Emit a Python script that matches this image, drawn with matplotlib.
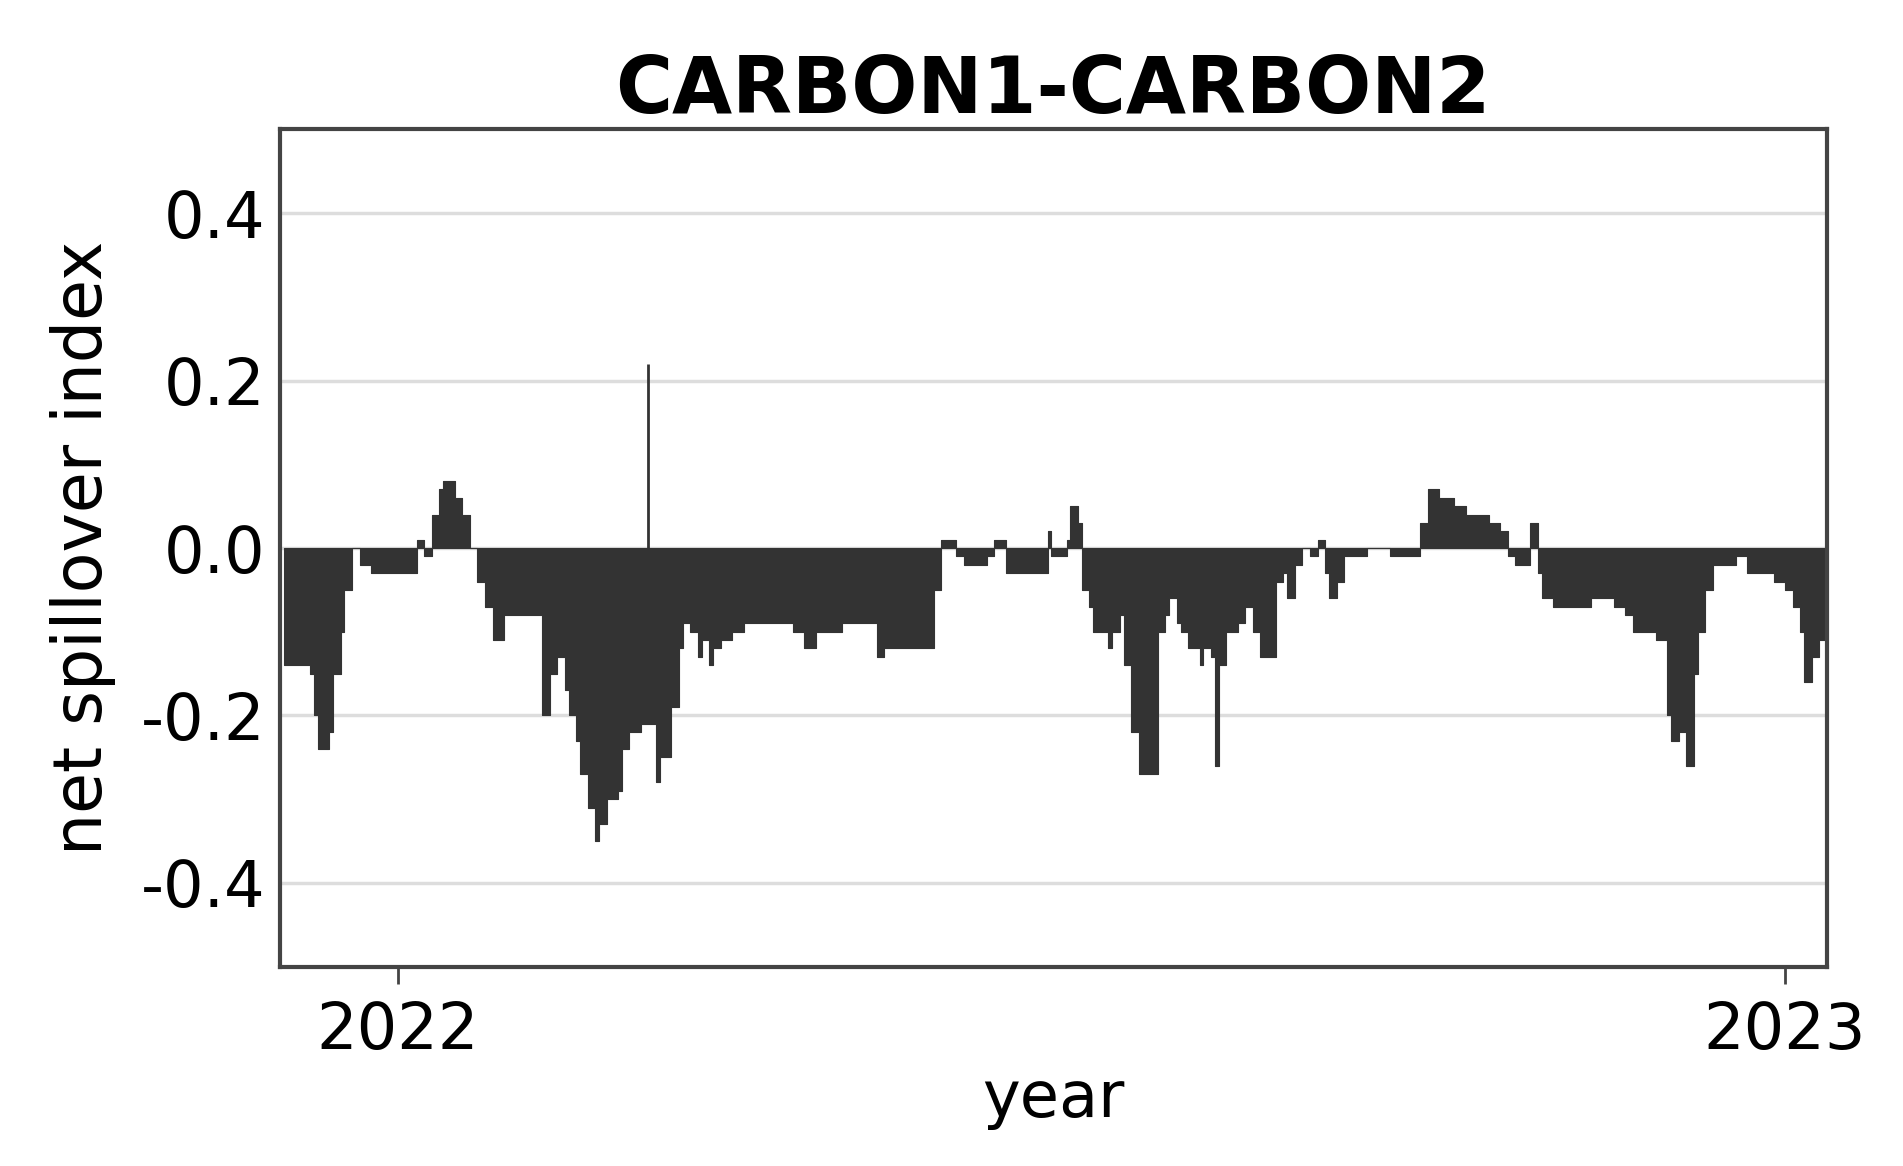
import matplotlib
matplotlib.use("Agg")
import matplotlib.pyplot as plt
import numpy as np
import datetime as dt

matplotlib.rcParams['font.family'] = 'DejaVu Sans'

# ── data: days from 2022-01-01, net spillover value ─────────
days = [-30, -23, -22, -21, -18, -17, -15, -14, -12, -10, -7, -4, -1, 2, 5, 7, 9, 11, 12, 15,
        17, 19, 21, 23, 25, 28, 31, 34, 37, 38, 40, 42, 44, 45, 47, 48, 50, 52, 53, 55,
        56, 58, 59, 61, 63, 64, 67, 68, 69, 71, 72, 74, 75, 77, 79, 80, 82, 83, 85, 88,
        91, 94, 98, 101, 104, 107, 110, 114, 117, 120, 123, 126, 128, 133, 137, 141, 143, 145, 147, 149,
        152, 155, 157, 160, 163, 166, 169, 171, 172, 174, 176, 177, 179, 180, 182, 183, 185, 187, 188, 190,
        191, 193, 195, 196, 199, 200, 202, 203, 205, 206, 208, 211, 212, 214, 215, 216, 218, 221, 223, 225,
        227, 230, 231, 233, 234, 236, 238, 240, 242, 244, 245, 247, 249, 252, 255, 258, 261, 265, 267, 269,
        271, 274, 278, 281, 284, 287, 290, 292, 294, 296, 298, 300, 301, 304, 308, 311, 314, 317, 320, 323,
        325, 328, 331, 334, 335, 337, 339, 341, 342, 344, 346, 349, 352, 355, 358, 362, 365, 367, 369, 370,
        372, 374, 376]
values = [-0.14, -0.15, -0.20, -0.24, -0.22, -0.15, -0.10, -0.05, 0.0, -0.02, -0.03, -0.03, -0.03, -0.03, 0.01, -0.01, 0.04, 0.07, 0.08, 0.06,
          0.04, 0.0, -0.04, -0.07, -0.11, -0.08, -0.08, -0.08, -0.08, -0.20, -0.15, -0.13, -0.17, -0.20, -0.23, -0.27, -0.31, -0.35, -0.33, -0.30,
          -0.30, -0.29, -0.24, -0.22, -0.22, -0.21, -0.21, -0.28, -0.25, -0.25, -0.19, -0.12, -0.09, -0.10, -0.13, -0.11, -0.14, -0.12, -0.11, -0.10,
          -0.09, -0.09, -0.09, -0.09, -0.10, -0.12, -0.10, -0.10, -0.09, -0.09, -0.09, -0.13, -0.12, -0.12, -0.12, -0.05, 0.01, 0.01, -0.01, -0.02,
          -0.02, -0.01, 0.01, -0.03, -0.03, -0.03, -0.03, 0.02, -0.01, -0.01, 0.01, 0.05, 0.03, -0.05, -0.07, -0.10, -0.10, -0.12, -0.10, -0.08,
          -0.14, -0.22, -0.27, -0.27, -0.27, -0.10, -0.08, -0.06, -0.09, -0.10, -0.12, -0.14, -0.12, -0.13, -0.26, -0.14, -0.10, -0.09, -0.07, -0.10,
          -0.13, -0.13, -0.04, -0.03, -0.06, -0.02, 0.0, -0.01, 0.01, -0.03, -0.06, -0.04, -0.01, -0.01, 0.0, 0.0, -0.01, -0.01, -0.01, 0.03,
          0.07, 0.06, 0.05, 0.04, 0.04, 0.03, 0.02, -0.01, -0.02, -0.02, 0.03, -0.03, -0.06, -0.07, -0.07, -0.07, -0.06, -0.06, -0.07, -0.08,
          -0.10, -0.10, -0.11, -0.20, -0.23, -0.22, -0.26, -0.15, -0.10, -0.05, -0.02, -0.02, -0.01, -0.03, -0.03, -0.04, -0.05, -0.07, -0.10, -0.16,
          -0.13, -0.11, -0.12]
spike_day = 66
spike_val = 0.22

base = dt.date(2022, 1, 1)
dates = [base + dt.timedelta(days=d) for d in days]

# ── figure ──────────────────────────────────────────────────
fig = plt.figure(figsize=(19.03, 11.66), dpi=100)
ax = fig.add_axes([0.147, 0.171, 0.813, 0.718])

ax.fill_between(dates, values, 0, step='post', facecolor='#333333',
                edgecolor='#333333', linewidth=0.8)
ax.vlines(base + dt.timedelta(days=spike_day), 0, spike_val, color='#333333', linewidth=2)

ax.set_xlim(dt.date(2021, 12, 1), dt.date(2023, 1, 12))
ax.set_ylim(-0.5, 0.5)
ax.set_yticks([-0.4, -0.2, 0.0, 0.2, 0.4])
ax.set_yticklabels(['-0.4', '-0.2', '0.0', '0.2', '0.4'])
ax.set_xticks([dt.date(2022, 1, 1), dt.date(2023, 1, 1)])
ax.set_xticklabels(['2022', '2023'])
ax.yaxis.grid(True, color='#dddddd', linewidth=2.5)
ax.set_axisbelow(True)
ax.tick_params(axis='y', length=0, labelsize=46, pad=10)
ax.tick_params(axis='x', length=12, width=2, color='#444444', labelsize=46, pad=12)
for s in ax.spines.values():
    s.set_linewidth(3)
    s.set_color('#444444')

ax.set_title("CARBON1-CARBON2", fontsize=56, fontweight='bold', pad=8)
ax.set_xlabel("year", fontsize=46, labelpad=4)
ax.set_ylabel("net spillover index", fontsize=48, labelpad=18)

plt.savefig("out.png", dpi=100)
plt.close()
